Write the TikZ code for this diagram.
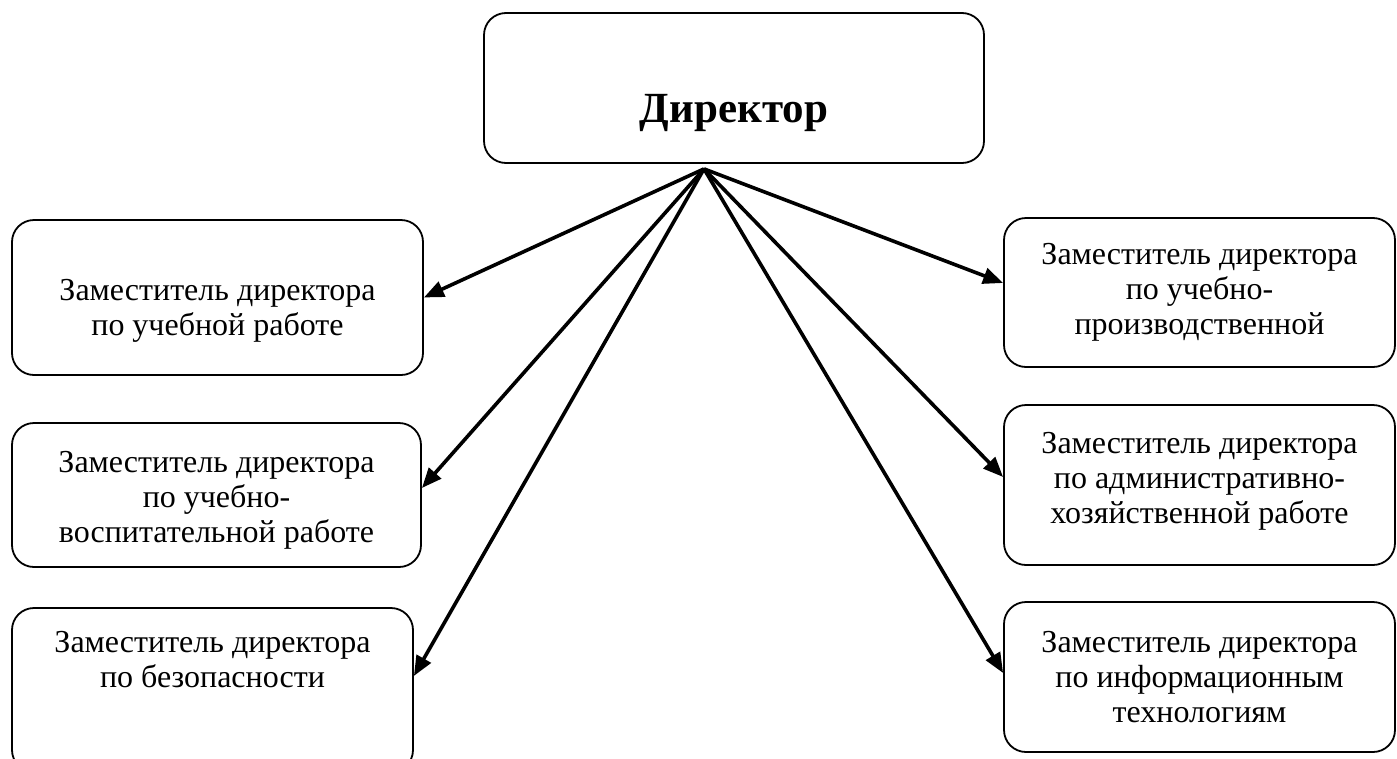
\documentclass[tikz,border=0pt]{standalone}
\usepackage{fontspec}
\setmainfont{Liberation Serif}
\usetikzlibrary{arrows.meta}

\begin{document}
\begin{tikzpicture}[x=1pt, y=-1pt,
		post/.style={draw, line width=1.8pt, rounded corners=22pt, align=center,
			font=\fontsize{32}{35}\selectfont, inner sep=0pt},
		link/.style={line width=3.6pt, -{Triangle[length=20pt, width=16pt]}}]
	\useasboundingbox (0,0) rectangle (1397,758);

	\node[post, minimum width=500pt, minimum height=150pt, text height=68pt, text depth=0pt,
		font=\fontsize{43}{46}\bfseries] (dir) at (734,88) {Директор};
	\coordinate (hub) at ([xshift=-30pt, yshift=-5pt]dir.south);

	\node[post, minimum width=411pt, minimum height=155pt] (zam1) at (217.5,297.5)
		{\rule{0pt}{48pt}Заместитель директора\\по учебной работе};
	\node[post, minimum width=409pt, minimum height=144pt] (zam2) at (216.5,495)
		{\rule{0pt}{32pt}Заместитель директора\\по учебно-\\воспитательной работе};
	\node[post, minimum width=401pt, minimum height=164pt] (zam3) at (212.5,690)
		{Заместитель директора\\по безопасности\rule[-62pt]{0pt}{0pt}};
	\node[post, minimum width=391pt, minimum height=149pt] (zam4) at (1199.5,292.5)
		{Заместитель директора\\по учебно-\\производственной};
	\node[post, minimum width=391pt, minimum height=160pt] (zam5) at (1199.5,485)
		{Заместитель директора\\по административно-\\хозяйственной работе\rule[-15pt]{0pt}{0pt}};
	\node[post, minimum width=391pt, minimum height=150pt] (zam6) at (1199.5,677)
		{Заместитель директора\\по информационным\\технологиям};

	\draw[link] (hub) -- (zam1.east);
	\draw[link] (hub) -- ([yshift=7pt]zam2.east);
	\draw[link] (hub) -- ([yshift=14pt]zam3.east);
	\draw[link] (hub) -- ([yshift=9.5pt]zam4.west);
	\draw[link] (hub) -- ([yshift=8pt]zam5.west);
	\draw[link] (hub) -- ([yshift=4pt]zam6.west);
\end{tikzpicture}
\end{document}
